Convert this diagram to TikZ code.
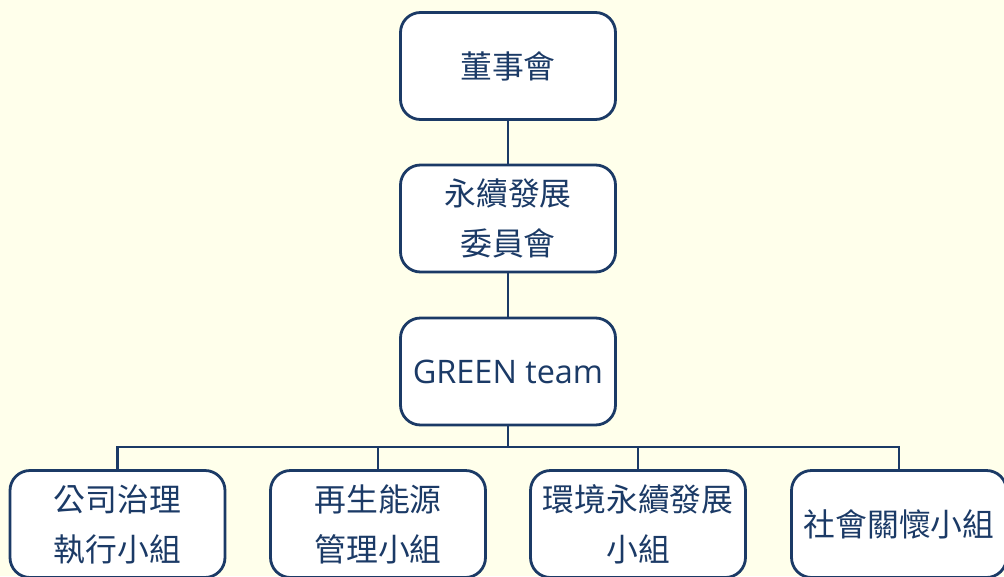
\documentclass[tikz,border=0pt]{standalone}
\usepackage{fontspec}
\newfontfamily\cjk{Noto Sans CJK TC}
\newfontfamily\lat{Open Sans}
\definecolor{navy}{HTML}{1B3A66}
\definecolor{bg}{HTML}{FFFFEB}
\begin{document}
\begin{tikzpicture}[x=1pt,y=-1pt,
  box/.style={draw=navy, line width=2.8pt, fill=white, rounded corners=20pt,
    minimum width=215pt, minimum height=107pt, align=center, text=navy,
    font=\cjk\fontsize{31.8}{50}\selectfont, inner sep=0pt},
  link/.style={draw=navy, line width=2.8pt}]
\fill[bg] (0,0) rectangle (1004,576);
\useasboundingbox (0,0) rectangle (1004,576);
\node[box] (b1) at (508,66) {董事會};
\node[box] (b2) at (508,218.5) {永續發展\\委員會};
\node[box] (b3) at (508,371.5) {\lat\fontsize{32.4}{40}\selectfont GREEN team};
\coordinate (bus) at (508,447);
\node[box] (c1) at (117.5,524) {公司治理\\執行小組};
\node[box] (c2) at (378,524) {再生能源\\管理小組};
\node[box] (c3) at (638,524) {環境永續發展\\小組};
\node[box] (c4) at (899,524) {社會關懷小組};
\draw[link] (b1.south) -- (b2.north);
\draw[link] (b2.south) -- (b3.north);
\draw[link] (b3.south) -- (bus);
\draw[link] (c1.north) |- (bus);
\draw[link] (c4.north) |- (bus);
\draw[link] (c2.north) -- (c2.north |- bus);
\draw[link] (c3.north) -- (c3.north |- bus);
\end{tikzpicture}
\end{document}
